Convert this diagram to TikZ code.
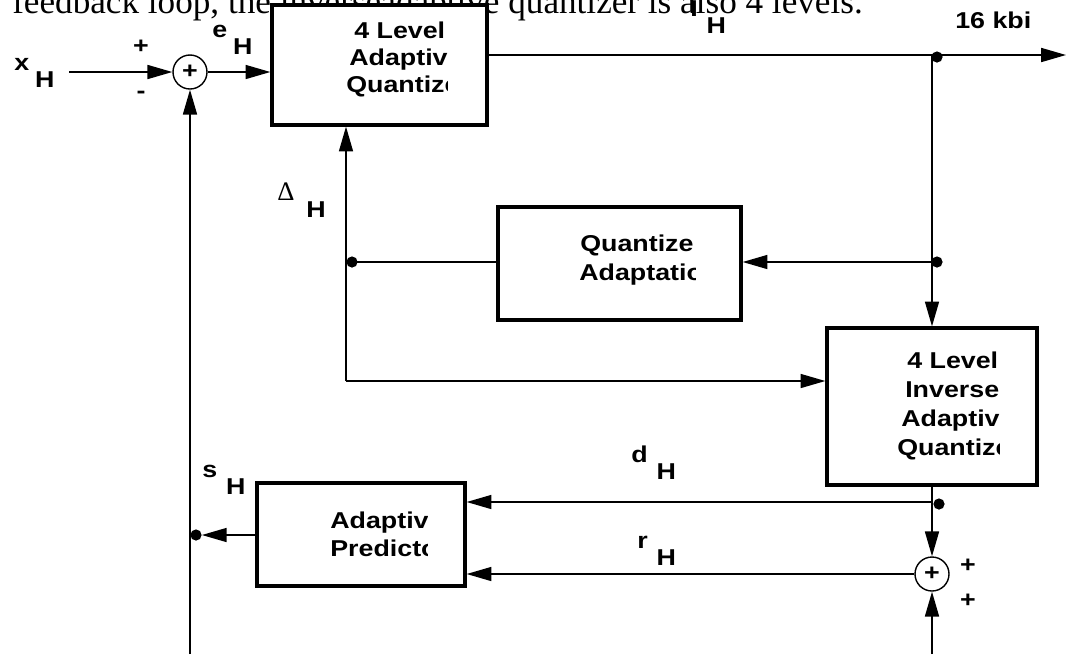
\documentclass[tikz,border=0pt]{standalone}
\usepackage{fontspec}
\usetikzlibrary{arrows.meta}
\newfontfamily\labfont[FakeStretch=1.17]{Liberation Sans}
\newfontfamily\txtfont{Liberation Serif}
\newcommand\subH[2][0.225cm]{#2\hspace{#1}\raisebox{-0.425cm}{H}}

\tikzset{
  blk/.style={draw, line width=2.3pt, fill=white, inner sep=0pt},
  sum/.style={draw, circle, line width=1pt, minimum size=0.85cm, inner sep=0pt,
              font=\labfont\bfseries\fontsize{16.3}{19}\selectfont},
  dot/.style={fill, circle, inner sep=0pt, minimum size=0.28cm},
  lbl/.style={inner sep=0pt, font=\labfont\bfseries\fontsize{16.3}{19}\selectfont},
  boxtxt/.style={lbl, anchor=base west},
  wire/.style={line width=1.1pt},
}

\begin{document}
\begin{tikzpicture}[x=0.025cm, y=-0.025cm, >={Triangle[length=0.62cm, width=0.35cm]}]
  \useasboundingbox (0,0) rectangle (1067,654);
  \clip (0,0) rectangle (1067,654);

  % -- texte au-dessus (coupe par le cadre)
  \node[anchor=base west, inner sep=0pt, font=\txtfont\fontsize{25}{29}\selectfont]
    (txta) at (12,13) {feedback loop, the inverse};
  \node[anchor=base east, inner sep=0pt, font=\txtfont\fontsize{25}{29}\selectfont]
    (txtb) at (863,13) {adaptive quantizer is also 4 levels.};

  % -- blocs
  \node[blk, minimum width=5.375cm, minimum height=3cm]     (q1) at (379.5,65) {};
  \node[blk, minimum width=6.075cm, minimum height=2.825cm] (qa) at (619.5,263.5) {};
  \node[blk, minimum width=5.25cm,  minimum height=3.925cm] (iq) at (932,406.5) {};
  \node[blk, minimum width=5.2cm,   minimum height=2.575cm] (ap) at (361,534.5) {};

  % -- textes des blocs (tronques a droite)
  \begin{scope}
    \clip (q1.north west) rectangle (447,125);
    \foreach \t/\xx/\yy [count=\i] in {4 Level/354/38, Adaptiv/349/65, Quantize/346/92}
      \node[boxtxt] (q1t\i) at (\xx,\yy) {\t};
  \end{scope}
  \begin{scope}
    \clip (qa.north west) rectangle (695,320);
    \foreach \t/\xx/\yy [count=\i] in {Quantize/580/251, Adaptatio/579/280}
      \node[boxtxt] (qat\i) at (\xx,\yy) {\t};
  \end{scope}
  \begin{scope}
    \clip (iq.north west) rectangle (999,485);
    \foreach \t/\xx/\yy [count=\i] in {4 Level/907/368, Inverse/905/397, Adaptiv/901/426, Quantize/897/455}
      \node[boxtxt] (iqt\i) at (\xx,\yy) {\t};
  \end{scope}
  \begin{scope}
    \clip (ap.north west) rectangle (427,586);
    \foreach \t/\xx/\yy [count=\i] in {Adaptiv/330/528, Predicto/330/556}
      \node[boxtxt] (apt\i) at (\xx,\yy) {\t};
  \end{scope}

  % -- sommateurs
  \node[sum] (a1) at (190,72) {+};
  \node[sum] (a2) at (932,574) {+};

  % -- points de jonction
  \coordinate (xin) at (69,72);
  \coordinate (out) at (1066,55);
  \coordinate (j1) at (932,55);
  \coordinate (j2) at (932,262);
  \coordinate (j3) at (346,262);
  \coordinate (c1) at (346,381);
  \coordinate (j4) at (932,502);
  \coordinate (b1) at (190,654);
  \coordinate (b2) at (932,654);
  \node[dot] (d1) at (937,57) {};
  \node[dot] (d2) at (937,262) {};
  \node[dot] (d3) at (352,262) {};
  \node[dot] (d4) at (939,504) {};
  \node[dot] (d5) at (196,535) {};

  % -- liaisons
  \draw[wire,->] (xin) -- (a1);
  \draw[wire,->] (a1) -- (a1 -| q1.west);
  \draw[wire,->] (q1.east |- out) -- (out);
  \draw[wire,->] (j1) -- (iq.north);
  \draw[wire,->] (j2) -- (j2 -| qa.east);
  \draw[wire] (qa.west |- j3) -- (j3);
  \draw[wire,->] (c1) -- (c1 |- q1.south);
  \draw[wire,->] (c1) -- (c1 -| iq.west);
  \draw[wire,->] (iq.south) -- (a2);
  \draw[wire,->] (j4) -- (j4 -| ap.east);
  \draw[wire,->] (a2) -- (a2 -| ap.east);
  \draw[wire,->] (b2) -- (a2);
  \draw[wire,->] (ap.west |- d5) -- (d5);
  \draw[wire,->] (b1) -- (a1);

  % -- etiquettes
  \node[lbl, anchor=base west] (xlab) at (14,70) {\subH[0.15cm]{x}};
  \node[lbl] (pl1) at (141,47) {+};
  \node[lbl] (mi1) at (141,95) {-};
  \node[lbl, anchor=base west] (elab) at (212,37) {\subH[0.15cm]{e}};
  \node[lbl, anchor=base west] (ilab) at (690,16) {\subH{I}};
  \node[lbl, anchor=base west] (rate) at (955,28) {16 kbi};
  \node[lbl, anchor=base west] (dlab) at (277,200)
    {\subH[0.3cm]{{\txtfont\mdseries\fontsize{19}{21}\selectfont Δ}}};
  \node[lbl, anchor=base west] (dhlab) at (631,462) {\subH{d}};
  \node[lbl, anchor=base west] (rhlab) at (637,548) {\subH{r}};
  \node[lbl, anchor=base west] (shlab) at (202,477) {\subH{s}};
  \node[lbl] (pl2) at (968,566) {+};
  \node[lbl] (pl3) at (968,601) {+};
\end{tikzpicture}
\end{document}
